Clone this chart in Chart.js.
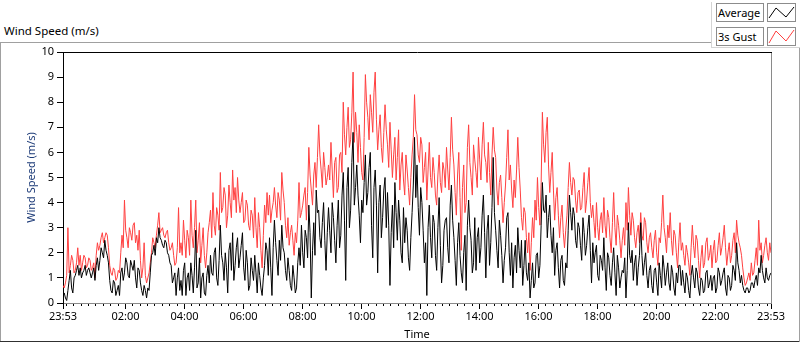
<!DOCTYPE html>
<html><head><meta charset="utf-8">
<script src="https://cdn.jsdelivr.net/npm/chart.js@4/dist/chart.umd.min.js"></script>
<style>
html,body{margin:0;padding:0;background:#fff;}
#wrap{position:relative;width:800px;height:342px;overflow:hidden;font-family:"Noto Sans",sans-serif;color:#000;}
#c{position:absolute;left:0;top:0;}
.ln{position:absolute;}
#title{position:absolute;left:4px;top:23px;font-size:11.5px;line-height:16px;white-space:nowrap;}
.lgtxt{position:absolute;left:716px;width:45px;height:17px;border:1px solid #8c8c8c;font-size:11px;line-height:17px;padding-left:1px;white-space:nowrap;}
.lgico{position:absolute;left:767px;}
</style></head><body>
<div id="wrap">
  <div class="ln" style="left:0;top:42px;width:711px;height:1px;background:#a0a0a0"></div>
  <div class="ln" style="left:0;top:42px;width:1px;height:300px;background:#a0a0a0"></div>
  <div class="ln" style="left:0;top:341px;width:800px;height:1px;background:#303030"></div>
  <div class="ln" style="left:799px;top:47px;width:1px;height:295px;background:#a0a0a0"></div>
  <div class="ln" style="left:711px;top:2px;width:1px;height:46px;background:#d4d4d4"></div>
  <div class="ln" style="left:711px;top:47px;width:89px;height:1px;background:#d4d4d4"></div>
  <div id="title">Wind Speed (m/s)</div>
  <div class="lgtxt" style="top:3px">Average</div>
  <div class="lgtxt" style="top:27px">3s Gust</div>
  <svg class="lgico" style="top:3px" width="29" height="20"><rect x="0.5" y="0.5" width="28" height="18" fill="#fff" stroke="#8c8c8c"/><polyline points="2,15 9,5 19,14 27,4" fill="none" stroke="#000" stroke-width="1"/></svg>
  <svg class="lgico" style="top:27px" width="29" height="20"><rect x="0.5" y="0.5" width="28" height="18" fill="#fff" stroke="#8c8c8c"/><polyline points="2,16 9,4 19,14 27,3" fill="none" stroke="rgb(255,64,64)" stroke-width="1"/></svg>
  <canvas id="c" width="800" height="342" style="width:800px;height:342px"></canvas>
</div>
<script>
// Time axis: minutes since the first sample at 23:53, one sample every 2.5 minutes
const startTime = '23:53';
const sampleStepMinutes = 2.5;
const tickLabels = ['23:53','02:00','04:00','06:00','08:00','10:00','12:00','14:00','16:00','18:00','20:00','22:00','23:53'];
const minorTickStepMinutes = 15;
const yTickValues = [0,1,2,3,4,5,6,7,8,9,10];

// 3 s gust speed (m/s), one row per hour
const gust = [
 0.7,0.6,0.8,1.1,3.0,1.2,1.5,1.9,1.7,1.2,1.3,1.6,2.2,1.5,1.9,1.3,1.6,1.9,1.8,1.4,1.5,1.8,1.7,1.3,
 1.4,1.6,1.0,1.9,2.4,2.1,2.3,2.6,2.8,2.4,2.6,2.8,2.7,2.2,1.5,1.2,1.1,1.4,1.3,0.9,1.0,1.3,1.2,2.0,
 2.7,2.2,4.1,2.9,2.6,2.2,3.0,2.8,2.5,3.1,3.2,2.4,2.7,2.1,2.9,1.7,1.0,1.4,2.4,1.1,0.8,1.0,1.2,1.6,
 2.0,2.6,2.4,2.2,2.7,3.1,3.6,2.8,2.9,3.0,2.7,2.6,2.8,2.9,2.4,2.1,2.2,2.4,1.9,1.5,1.6,2.2,3.8,2.0,
 2.4,1.9,3.3,2.5,1.8,2.9,2.6,1.9,4.1,2.7,2.2,3.0,4.1,2.0,2.5,3.2,1.6,2.3,3.0,1.9,1.4,2.0,2.8,3.2,
 3.7,2.6,4.4,3.1,2.7,3.8,3.5,2.9,5.2,3.6,3.8,4.6,4.3,3.0,3.5,4.7,4.0,3.4,5.3,4.1,4.6,3.6,5.0,4.1,
 3.6,4.0,4.4,3.2,3.3,4.1,3.9,3.1,2.9,3.7,3.5,2.6,4.2,3.0,2.2,3.6,3.0,2.1,1.4,2.7,3.9,3.2,4.4,3.5,
 4.3,3.2,3.7,4.0,4.6,3.9,3.4,4.4,4.1,3.3,5.2,4.5,4.0,3.1,2.6,3.4,2.3,2.8,3.1,2.5,1.9,2.8,2.4,3.3,
 4.8,3.4,3.6,3.9,4.3,4.6,3.3,4.4,6.2,5.1,4.5,3.9,5.1,5.6,4.6,5.8,7.1,5.9,5.3,4.6,6.0,5.4,4.7,5.0,
 5.5,4.9,6.4,5.3,4.2,5.6,5.8,4.4,4.6,5.9,6.0,5.2,8.0,6.7,5.9,7.0,7.8,6.2,6.5,7.6,9.2,6.4,7.6,6.8,
 5.6,7.1,6.2,5.2,4.9,6.6,9.1,8.0,7.4,6.5,8.3,7.6,6.8,8.4,9.2,7.3,6.1,6.9,7.5,6.2,5.6,6.8,7.9,6.9,
 6.3,5.4,7.2,6.1,5.0,5.9,6.6,4.9,5.8,6.9,4.5,5.5,6.0,4.9,4.3,5.9,5.3,4.6,3.9,5.0,5.9,6.6,8.3,6.9,
 6.7,5.9,5.6,6.6,6.3,4.8,5.4,6.0,4.1,5.3,6.4,5.0,4.6,5.8,5.2,4.3,3.9,5.1,5.9,4.8,4.4,5.6,5.3,4.6,
 6.2,5.3,4.5,5.8,7.4,6.1,5.5,4.4,3.5,5.1,6.0,4.2,2.1,4.6,5.5,3.6,4.0,6.2,7.1,5.6,5.0,4.3,6.3,5.7,
 5.2,4.6,6.6,5.7,4.9,6.3,7.2,5.9,5.6,4.8,6.4,5.2,4.3,5.9,7.0,6.1,5.8,4.5,3.9,4.8,5.1,4.2,3.2,4.0,
 4.7,5.8,6.9,4.9,5.5,4.5,3.8,4.9,4.2,5.3,6.6,5.4,4.5,3.4,2.9,3.8,3.6,2.6,2.0,2.8,1.3,2.4,3.4,2.6,
 4.1,3.3,5.0,3.8,3.1,4.8,7.6,6.3,5.6,6.8,7.4,5.5,4.4,5.2,6.0,4.5,3.3,4.2,4.6,3.5,2.6,3.4,3.9,2.8,
 2.2,2.9,3.5,4.6,5.6,4.8,4.3,5.0,4.9,4.1,3.6,4.4,4.5,3.7,3.8,4.6,5.2,3.6,4.1,4.8,5.4,4.0,3.4,3.9,
 3.2,2.6,4.0,3.0,2.5,3.3,3.6,2.8,4.2,3.1,2.6,3.7,3.4,2.6,2.0,3.2,4.4,3.0,2.3,3.5,3.1,2.5,1.8,2.5,
 3.0,2.3,4.0,2.9,4.6,3.5,2.7,3.6,3.3,2.6,2.2,2.8,3.1,2.4,3.6,2.7,2.5,3.4,3.2,2.4,2.0,2.6,2.8,2.2,
 1.8,2.5,2.9,2.0,1.5,2.6,2.4,3.2,4.3,3.0,2.6,2.0,3.1,2.6,3.6,2.5,1.9,2.9,2.7,2.0,1.4,2.4,3.2,2.1,
 2.4,1.9,1.5,2.3,2.0,1.6,1.1,2.2,3.1,2.3,1.8,2.7,2.5,1.7,1.0,1.8,2.3,1.4,1.6,2.4,2.6,1.7,1.9,2.3,
 1.4,2.1,2.5,1.6,1.7,2.3,2.8,1.9,2.2,2.6,3.1,2.2,1.5,2.0,2.4,1.6,1.9,2.5,2.8,2.0,3.3,2.7,2.4,2.2,
 1.9,1.4,1.0,0.7,0.8,1.0,1.2,0.9,1.6,1.1,1.2,1.7,2.2,1.5,3.3,2.1,2.4,1.6,1.9,2.3,2.6,2.0,1.7,2.4,2.0
];

// Average wind speed (m/s), one row per hour
const average = [
 0.3,0.4,0.2,0.1,0.5,0.9,1.3,0.6,0.4,1.0,1.1,1.3,1.5,1.1,1.4,1.0,1.2,1.3,1.5,1.1,1.3,1.4,1.2,1.0,
 1.2,1.4,0.9,1.5,1.8,1.3,1.7,2.2,2.0,1.8,2.5,2.1,1.9,1.6,0.9,0.5,0.4,0.9,0.8,0.3,0.5,0.7,0.3,1.2,
 1.4,0.9,1.2,1.8,1.6,1.1,1.0,1.7,1.5,1.3,1.7,1.0,0.6,1.4,1.3,0.8,0.5,0.3,0.7,0.5,0.2,0.6,0.5,1.2,
 1.9,2.0,2.3,1.9,2.6,2.4,3.0,2.6,2.5,2.3,2.2,2.5,2.4,2.0,1.9,1.6,1.5,0.8,1.0,1.2,0.3,1.0,1.4,0.5,
 0.9,0.3,1.3,1.6,0.3,1.0,1.2,0.5,1.6,1.1,0.4,1.4,2.9,0.6,0.8,1.8,0.2,1.0,1.2,0.4,0.3,1.1,1.5,0.8,
 1.9,1.2,1.1,2.0,2.2,1.0,0.7,1.7,3.1,1.9,1.6,0.9,2.0,1.4,0.4,2.1,2.4,1.3,2.8,0.9,1.5,2.2,2.6,1.4,
 1.8,2.3,2.8,1.4,0.9,2.1,1.6,0.5,0.7,1.8,1.3,0.9,1.9,1.2,0.4,1.6,1.1,0.6,0.3,1.0,1.5,2.4,2.1,1.1,
 2.6,1.4,0.3,2.2,3.3,2.4,1.7,1.1,2.5,1.7,3.1,2.2,2.0,1.3,0.9,1.8,1.3,0.7,0.5,1.5,1.0,0.4,0.6,1.6,
 2.2,1.5,3.1,2.0,1.4,2.9,2.6,1.8,3.9,2.8,0.2,2.1,3.2,1.9,4.5,3.6,3.7,2.6,2.2,3.2,4.0,2.5,1.3,2.8,
 3.8,2.9,2.0,4.0,3.4,2.5,1.6,3.1,4.1,2.2,2.7,4.3,5.2,3.3,0.9,4.6,5.4,3.0,3.7,5.6,6.8,3.9,4.6,5.5,
 4.3,3.5,2.4,4.1,3.6,4.8,5.9,3.9,4.4,5.4,6.0,3.1,1.8,4.6,5.3,3.9,1.2,4.0,4.7,2.6,3.4,4.5,5.0,3.0,
 4.4,3.1,0.7,2.8,3.9,2.2,4.8,3.6,2.5,4.1,3.3,2.0,1.6,3.8,2.4,3.4,2.9,1.8,1.3,2.6,3.6,4.7,6.6,4.2,
 5.5,3.8,2.7,4.6,4.0,2.9,1.6,2.4,0.3,3.0,3.9,2.6,1.8,3.5,3.2,1.9,1.3,3.0,4.2,2.3,0.8,1.5,2.9,3.3,
 3.4,2.2,1.6,3.9,4.7,3.3,2.6,1.7,0.7,2.4,3.2,1.9,1.2,0.8,2.0,2.7,0.5,3.1,4.1,3.0,2.5,1.2,1.6,3.4,
 1.3,2.6,3.0,1.6,2.2,3.5,4.3,2.8,1.0,2.9,3.5,1.5,2.4,3.8,5.8,3.6,2.9,2.1,1.4,3.3,2.7,1.9,0.8,1.7,
 2.2,3.4,3.6,2.0,1.1,2.4,0.6,1.8,2.3,1.2,3.0,2.1,1.4,2.5,0.7,1.5,2.5,1.2,0.9,1.6,0.2,0.9,1.6,0.6,
 0.8,1.9,2.0,1.0,1.5,3.1,4.8,3.7,3.6,4.3,2.6,3.4,3.9,2.7,2.0,3.0,1.1,2.1,2.4,1.4,0.6,1.7,1.9,0.9,
 0.7,1.6,1.4,2.9,4.3,3.6,2.9,3.8,3.5,2.5,2.2,3.2,3.0,2.3,1.7,3.4,2.8,1.9,2.3,3.0,3.5,2.1,0.8,2.4,
 1.6,2.0,2.3,1.1,0.9,1.9,1.7,1.3,2.6,1.4,0.5,2.0,1.8,1.1,0.7,1.6,2.2,1.2,0.3,1.9,1.4,0.6,1.0,1.3,
 1.2,1.8,0.2,1.3,3.2,1.9,1.6,2.1,0.9,1.6,1.9,0.7,1.4,1.9,3.2,1.9,1.1,1.6,2.0,1.1,0.6,1.3,1.5,0.7,
 0.4,1.3,1.4,0.8,0.3,1.6,1.1,0.6,1.9,1.4,0.7,1.2,1.6,0.8,0.5,1.5,1.2,0.6,0.3,1.2,0.8,1.5,1.5,0.7,
 1.3,0.8,0.4,1.2,1.0,0.5,0.2,1.1,1.5,1.0,0.6,1.4,1.2,0.6,0.3,1.0,0.9,0.4,0.5,1.2,1.3,0.6,0.8,1.1,
 0.5,1.0,1.1,0.4,0.6,1.4,1.2,0.7,0.9,1.2,1.4,0.6,0.3,1.1,1.0,0.5,0.7,1.5,1.3,0.9,2.4,1.6,1.3,0.8,
 1.1,0.7,0.5,0.4,0.6,0.6,0.4,0.5,0.8,0.8,0.6,0.9,1.1,0.7,1.4,1.2,1.9,1.3,1.0,0.8,1.4,1.0,0.9,1.1,1.2
];

// helpers
function toMin(s){const p=s.split(':').map(Number);return p[0]*60+p[1];}
const start = toMin(startTime);
const span = 24*60;
const majorTicks = tickLabels.map((l,i)=> i===tickLabels.length-1 ? span : ((toMin(l)-start+span)%span));
const minorTicks = [];
for(let m=(minorTickStepMinutes - (start % minorTickStepMinutes)) % minorTickStepMinutes; m<=span; m+=minorTickStepMinutes) minorTicks.push(m);

const FONT = '"Noto Sans", sans-serif';
const toPts = arr => arr.map((v,i)=>({x:i*sampleStepMinutes, y:v}));

const framePlugin = {
  id:'frame',
  afterDraw(chart){
    const {ctx, chartArea:a} = chart;
    ctx.save();
    ctx.lineWidth = 1;
    ctx.strokeStyle = '#000';
    ctx.beginPath(); ctx.moveTo(a.left, Math.round(a.top)+0.5); ctx.lineTo(Math.round(a.right)+1, Math.round(a.top)+0.5); ctx.stroke();
    ctx.strokeStyle = '#8a8a8a';
    ctx.beginPath(); ctx.moveTo(Math.round(a.right)+0.5, a.top+1); ctx.lineTo(Math.round(a.right)+0.5, a.bottom); ctx.stroke();
    ctx.restore();
  }
};

new Chart(document.getElementById('c'), {
  type:'line',
  data:{datasets:[
    {label:'Average', data:toPts(average), borderColor:'#000', borderWidth:1, pointRadius:0, tension:0, order:0},
    {label:'3s Gust', data:toPts(gust), borderColor:'rgb(255,64,64)', borderWidth:1, pointRadius:0, tension:0, order:1}
  ]},
  options:{
    responsive:false, animation:false, devicePixelRatio:1,
    layout:{padding:{left:0, top:52, right:29, bottom:0}},
    plugins:{legend:{display:false}, tooltip:{enabled:false}},
    scales:{
      x:{type:'linear', position:'bottom', weight:1, min:0, max:span,
        afterBuildTicks:s=>{s.ticks = majorTicks.map(v=>({value:v}));},
        afterFit:s=>{s.height = 39;},
        ticks:{autoSkip:false, maxRotation:0, padding:1, color:'#000', font:{family:FONT,size:11},
          callback:(v,i)=>tickLabels[i]},
        grid:{drawOnChartArea:false, tickLength:6, color:'#000'},
        border:{display:true, color:'#8a8a8a'},
        title:{display:true, text:'Time', color:'#000', font:{family:FONT,size:11}, padding:{top:0,bottom:1}}
      },
      xMinor:{type:'linear', position:'bottom', weight:0, min:0, max:span,
        afterBuildTicks:s=>{s.ticks = minorTicks.map(v=>({value:v}));},
        afterFit:s=>{s.height = 0;},
        ticks:{display:false},
        grid:{drawOnChartArea:false, tickLength:3, color:'#000'},
        border:{display:false}
      },
      y:{min:0, max:10,
        afterBuildTicks:s=>{s.ticks = yTickValues.map(v=>({value:v}));},
        afterFit:s=>{s.width = 63;},
        ticks:{padding:3, color:'#000', font:{family:FONT,size:11}},
        grid:{drawOnChartArea:false, tickLength:6, color:'#000'},
        border:{display:true, color:'#000'},
        title:{display:true, text:'Wind Speed (m/s)', color:'#1d3b78', font:{family:FONT,size:11}, padding:{top:25,bottom:0}}
      }
    }
  },
  plugins:[framePlugin]
});
</script>
</body></html>
